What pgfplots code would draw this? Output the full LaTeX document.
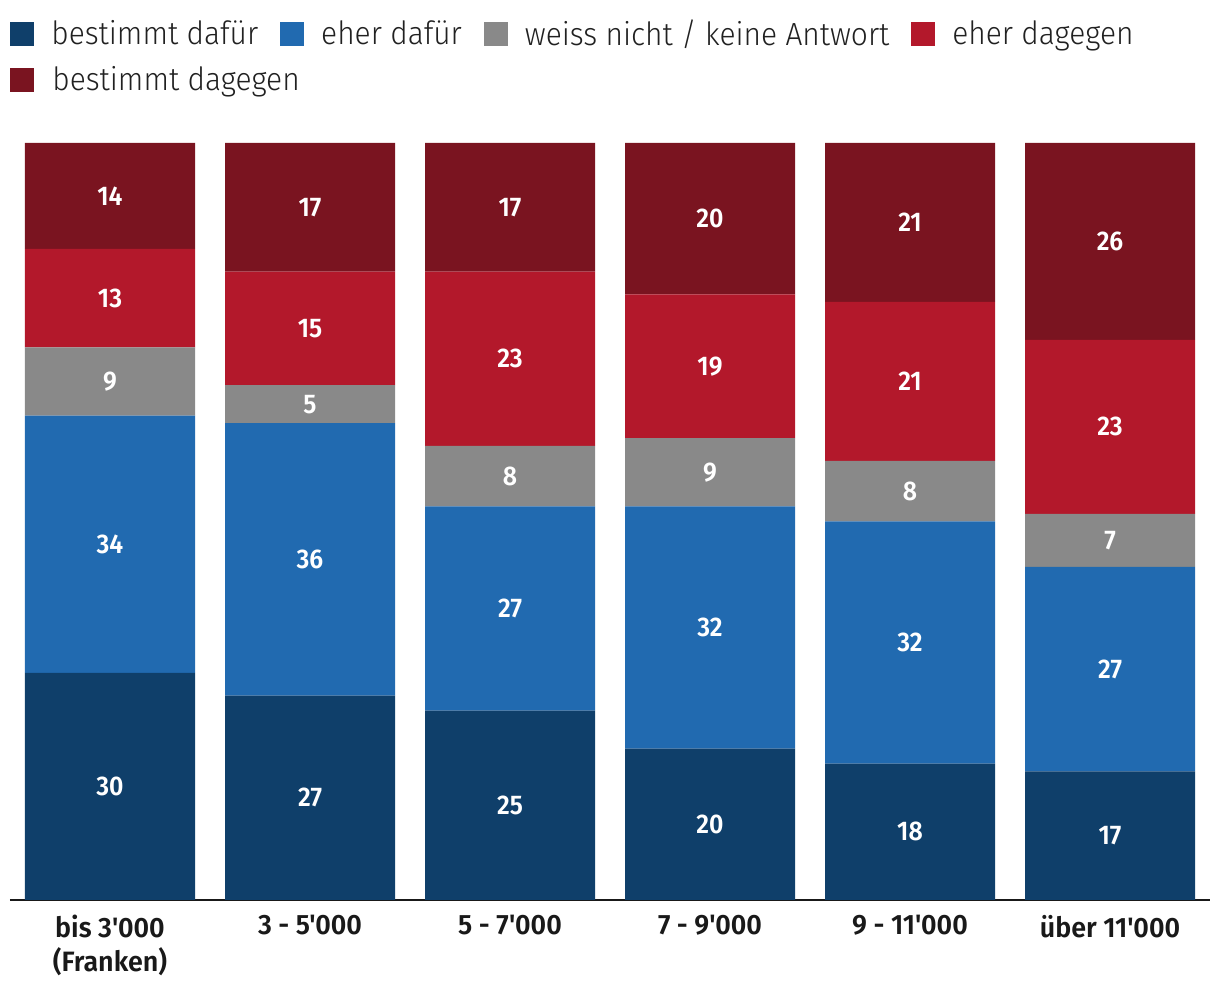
\documentclass[border=0pt]{standalone}
\usepackage{fontspec}
\setmainfont{Fira Sans}
\newfontfamily\legfont{Fira Sans Light}[FakeStretch=0.935]
\newfontfamily\labfont{Fira Sans SemiBold}[FakeStretch=0.96]
\newfontfamily\numfont{Fira Sans SemiBold}[FakeStretch=0.92]
\usepackage{pgfplots}
\pgfplotsset{compat=1.18}
\definecolor{cA}{HTML}{0F3F6A}
\definecolor{cB}{HTML}{216AB0}
\definecolor{cC}{HTML}{898989}
\definecolor{cD}{HTML}{B3182B}
\definecolor{cE}{HTML}{7A1420}
\begin{document}
\begin{tikzpicture}
\begin{axis}[
  scale only axis,
  width=600pt, height=378.5pt,
  ybar stacked, bar width=85pt,
  xmin=-0.5, xmax=5.5, ymin=0, ymax=100,
  axis x line=bottom, axis y line=none,
  x axis line style={-, line width=1pt, black!90},
  xtick={0,1,2,3,4,5}, major tick length=0pt,
  xticklabels={{bis 3'000\\(Franken)},{3 - 5'000},{5 - 7'000},{7 - 9'000},{9 - 11'000},{über 11'000}},
  xticklabel style={align=center, font=\labfont\fontsize{14pt}{17pt}\selectfont, text=black!90, yshift=-4pt},
  visualization depends on={rawy \as \rawy},
  nodes near coords={\pgfmathprintnumber[assume math mode=true]{\rawy}},
  every node near coord/.append style={anchor=center, text=white, font=\numfont\fontsize{13.5pt}{15pt}\selectfont},
  legend columns=4,
  legend style={at={(-0.01833,1.163)}, anchor=north west, draw=none, inner sep=0pt,
    nodes={inner sep=0pt, anchor=west},
    font=\legfont\fontsize{16pt}{19pt}\selectfont, text=black!87,
    column sep=0pt, row sep=9pt},
  legend image code/.code={\fill[#1] (0pt,-6pt) rectangle (12pt,6pt); \path (-11pt,0pt) (20.5pt,0pt);},
  clip=false,
]
\addplot[fill=cA, draw=none] coordinates {(0,30) (1,27) (2,25) (3,20) (4,18) (5,17)};
\addplot[fill=cB, draw=none] coordinates {(0,34) (1,36) (2,27) (3,32) (4,32) (5,27)};
\addplot[fill=cC, draw=none] coordinates {(0,9) (1,5) (2,8) (3,9) (4,8) (5,7)};
\addplot[fill=cD, draw=none] coordinates {(0,13) (1,15) (2,23) (3,19) (4,21) (5,23)};
\addplot[fill=cE, draw=none] coordinates {(0,14) (1,17) (2,17) (3,20) (4,21) (5,26)};
\legend{bestimmt dafür, eher dafür, weiss nicht / keine Antwort, eher dagegen, \makebox[0pt][l]{bestimmt dagegen}}
\coordinate (bl) at (rel axis cs:0,0);
\coordinate (tr) at (rel axis cs:1,1);
\end{axis}
\pgfresetboundingbox
\path[use as bounding box] ([xshift=-5pt,yshift=-49pt]bl) rectangle ([xshift=5pt,yshift=71.5pt]tr);
\end{tikzpicture}
\end{document}
